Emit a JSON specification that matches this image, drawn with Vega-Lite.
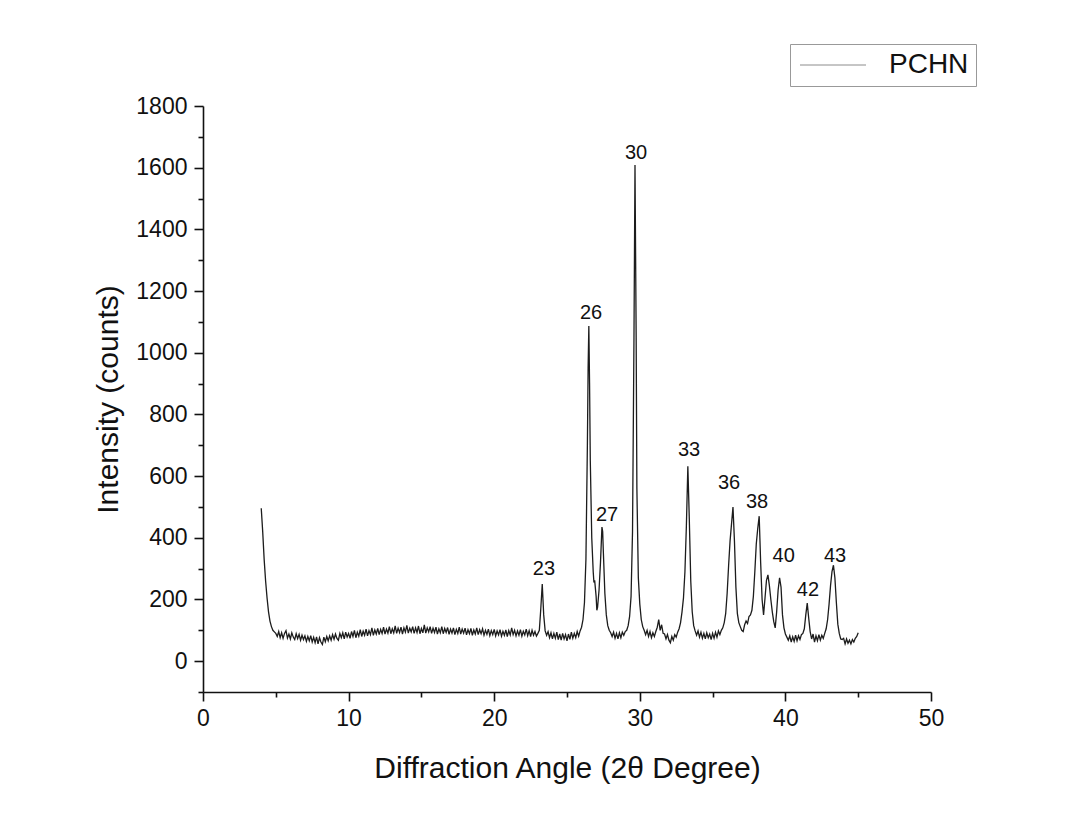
{
  "$schema": "https://vega.github.io/schema/vega-lite/v6.json",
  "width": 728,
  "height": 586,
  "autosize": {"type": "none"},
  "padding": {"left": 203, "top": 106, "right": 139, "bottom": 129},
  "background": "white",
  "config": {
    "view": {"stroke": null},
    "font": "Liberation Sans",
    "axis": {"domainColor": "#111", "domainWidth": 1.6, "tickColor": "#111", "tickWidth": 1.6, "labelColor": "#111", "titleColor": "#111", "grid": false, "labelFont": "Liberation Sans", "titleFont": "Liberation Sans", "titleFontWeight": "normal"}
  },
  "datasets": {
    "xrd": [
      {"angle":4.0,"counts":496},{"angle":4.1,"counts":420},{"angle":4.2,"counts":330},{"angle":4.3,"counts":260},{"angle":4.4,"counts":205},{"angle":4.5,"counts":160},{"angle":4.6,"counts":130},{"angle":4.7,"counts":112},{"angle":4.8,"counts":100},{"angle":4.9,"counts":95},
      {"angle":5.0,"counts":90},{"angle":5.1,"counts":80},{"angle":5.2,"counts":96},{"angle":5.3,"counts":76},{"angle":5.4,"counts":92},{"angle":5.5,"counts":74},{"angle":5.6,"counts":90},{"angle":5.7,"counts":99},{"angle":5.8,"counts":75},{"angle":5.9,"counts":88},
      {"angle":6.0,"counts":72},{"angle":6.1,"counts":92},{"angle":6.2,"counts":78},{"angle":6.3,"counts":70},{"angle":6.4,"counts":89},{"angle":6.5,"counts":73},{"angle":6.6,"counts":87},{"angle":6.7,"counts":68},{"angle":6.8,"counts":84},{"angle":6.9,"counts":70},
      {"angle":7.0,"counts":82},{"angle":7.1,"counts":64},{"angle":7.2,"counts":80},{"angle":7.3,"counts":66},{"angle":7.4,"counts":83},{"angle":7.5,"counts":62},{"angle":7.6,"counts":77},{"angle":7.7,"counts":60},{"angle":7.8,"counts":79},{"angle":7.9,"counts":56},
      {"angle":8.0,"counts":76},{"angle":8.1,"counts":62},{"angle":8.2,"counts":54},{"angle":8.3,"counts":78},{"angle":8.4,"counts":63},{"angle":8.5,"counts":80},{"angle":8.6,"counts":66},{"angle":8.7,"counts":82},{"angle":8.8,"counts":68},{"angle":8.9,"counts":86},
      {"angle":9.0,"counts":71},{"angle":9.1,"counts":88},{"angle":9.2,"counts":74},{"angle":9.3,"counts":68},{"angle":9.4,"counts":90},{"angle":9.5,"counts":76},{"angle":9.6,"counts":92},{"angle":9.7,"counts":72},{"angle":9.8,"counts":94},{"angle":9.9,"counts":78},
      {"angle":10.0,"counts":90},{"angle":10.1,"counts":74},{"angle":10.2,"counts":96},{"angle":10.3,"counts":80},{"angle":10.4,"counts":100},{"angle":10.5,"counts":76},{"angle":10.6,"counts":94},{"angle":10.7,"counts":81},{"angle":10.8,"counts":102},{"angle":10.9,"counts":80},
      {"angle":11.0,"counts":97},{"angle":11.1,"counts":84},{"angle":11.2,"counts":104},{"angle":11.3,"counts":82},{"angle":11.4,"counts":99},{"angle":11.5,"counts":86},{"angle":11.6,"counts":108},{"angle":11.7,"counts":84},{"angle":11.8,"counts":101},{"angle":11.9,"counts":88},
      {"angle":12.0,"counts":106},{"angle":12.1,"counts":86},{"angle":12.2,"counts":103},{"angle":12.3,"counts":90},{"angle":12.4,"counts":110},{"angle":12.5,"counts":88},{"angle":12.6,"counts":104},{"angle":12.7,"counts":91},{"angle":12.8,"counts":112},{"angle":12.9,"counts":89},
      {"angle":13.0,"counts":105},{"angle":13.1,"counts":92},{"angle":13.2,"counts":114},{"angle":13.3,"counts":90},{"angle":13.4,"counts":107},{"angle":13.5,"counts":93},{"angle":13.6,"counts":110},{"angle":13.7,"counts":88},{"angle":13.8,"counts":108},{"angle":13.9,"counts":94},
      {"angle":14.0,"counts":116},{"angle":14.1,"counts":91},{"angle":14.2,"counts":107},{"angle":14.3,"counts":95},{"angle":14.4,"counts":112},{"angle":14.5,"counts":90},{"angle":14.6,"counts":108},{"angle":14.7,"counts":93},{"angle":14.8,"counts":114},{"angle":14.9,"counts":89},
      {"angle":15.0,"counts":106},{"angle":15.1,"counts":92},{"angle":15.2,"counts":118},{"angle":15.3,"counts":91},{"angle":15.4,"counts":108},{"angle":15.5,"counts":95},{"angle":15.6,"counts":112},{"angle":15.7,"counts":90},{"angle":15.8,"counts":107},{"angle":15.9,"counts":93},
      {"angle":16.0,"counts":110},{"angle":16.1,"counts":88},{"angle":16.2,"counts":105},{"angle":16.3,"counts":92},{"angle":16.4,"counts":112},{"angle":16.5,"counts":89},{"angle":16.6,"counts":106},{"angle":16.7,"counts":93},{"angle":16.8,"counts":109},{"angle":16.9,"counts":87},
      {"angle":17.0,"counts":104},{"angle":17.1,"counts":91},{"angle":17.2,"counts":108},{"angle":17.3,"counts":86},{"angle":17.4,"counts":103},{"angle":17.5,"counts":90},{"angle":17.6,"counts":110},{"angle":17.7,"counts":88},{"angle":17.8,"counts":104},{"angle":17.9,"counts":91},
      {"angle":18.0,"counts":107},{"angle":18.1,"counts":85},{"angle":18.2,"counts":102},{"angle":18.3,"counts":89},{"angle":18.4,"counts":106},{"angle":18.5,"counts":84},{"angle":18.6,"counts":101},{"angle":18.7,"counts":88},{"angle":18.8,"counts":108},{"angle":18.9,"counts":86},
      {"angle":19.0,"counts":102},{"angle":19.1,"counts":89},{"angle":19.2,"counts":105},{"angle":19.3,"counts":84},{"angle":19.4,"counts":100},{"angle":19.5,"counts":87},{"angle":19.6,"counts":104},{"angle":19.7,"counts":83},{"angle":19.8,"counts":99},{"angle":19.9,"counts":86},
      {"angle":20.0,"counts":103},{"angle":20.1,"counts":82},{"angle":20.2,"counts":98},{"angle":20.3,"counts":85},{"angle":20.4,"counts":102},{"angle":20.5,"counts":81},{"angle":20.6,"counts":97},{"angle":20.7,"counts":84},{"angle":20.8,"counts":101},{"angle":20.9,"counts":80},
      {"angle":21.0,"counts":99},{"angle":21.1,"counts":85},{"angle":21.2,"counts":108},{"angle":21.3,"counts":86},{"angle":21.4,"counts":100},{"angle":21.5,"counts":82},{"angle":21.6,"counts":98},{"angle":21.7,"counts":84},{"angle":21.8,"counts":102},{"angle":21.9,"counts":81},
      {"angle":22.0,"counts":97},{"angle":22.1,"counts":85},{"angle":22.2,"counts":104},{"angle":22.3,"counts":83},{"angle":22.4,"counts":99},{"angle":22.5,"counts":80},{"angle":22.6,"counts":100},{"angle":22.7,"counts":84},{"angle":22.8,"counts":96},{"angle":22.9,"counts":81},
      {"angle":23.0,"counts":90},{"angle":23.1,"counts":100},{"angle":23.2,"counts":170},{"angle":23.3,"counts":250},{"angle":23.4,"counts":150},{"angle":23.5,"counts":98},{"angle":23.6,"counts":84},{"angle":23.7,"counts":96},{"angle":23.8,"counts":76},{"angle":23.9,"counts":92},
      {"angle":24.0,"counts":72},{"angle":24.1,"counts":90},{"angle":24.2,"counts":74},{"angle":24.3,"counts":94},{"angle":24.4,"counts":70},{"angle":24.5,"counts":88},{"angle":24.6,"counts":68},{"angle":24.7,"counts":90},{"angle":24.8,"counts":72},{"angle":24.9,"counts":86},
      {"angle":25.0,"counts":66},{"angle":25.1,"counts":88},{"angle":25.2,"counts":71},{"angle":25.3,"counts":94},{"angle":25.4,"counts":74},{"angle":25.5,"counts":90},{"angle":25.6,"counts":76},{"angle":25.7,"counts":96},{"angle":25.8,"counts":81},{"angle":25.9,"counts":98},
      {"angle":26.0,"counts":110},{"angle":26.1,"counts":135},{"angle":26.2,"counts":190},{"angle":26.3,"counts":330},{"angle":26.4,"counts":700},{"angle":26.45,"counts":950},{"angle":26.5,"counts":1087},{"angle":26.55,"counts":900},{"angle":26.6,"counts":650},{"angle":26.7,"counts":400},{"angle":26.8,"counts":290},{"angle":26.85,"counts":255},{"angle":26.9,"counts":262},
      {"angle":27.0,"counts":210},{"angle":27.05,"counts":165},{"angle":27.1,"counts":175},{"angle":27.2,"counts":230},{"angle":27.3,"counts":320},{"angle":27.4,"counts":435},{"angle":27.45,"counts":420},{"angle":27.5,"counts":350},{"angle":27.6,"counts":220},{"angle":27.7,"counts":150},{"angle":27.8,"counts":115},{"angle":27.9,"counts":100},
      {"angle":28.0,"counts":92},{"angle":28.1,"counts":80},{"angle":28.2,"counts":94},{"angle":28.3,"counts":74},{"angle":28.4,"counts":90},{"angle":28.5,"counts":72},{"angle":28.6,"counts":92},{"angle":28.7,"counts":76},{"angle":28.8,"counts":94},{"angle":28.9,"counts":84},
      {"angle":29.0,"counts":96},{"angle":29.1,"counts":100},{"angle":29.2,"counts":115},{"angle":29.3,"counts":145},{"angle":29.4,"counts":210},{"angle":29.5,"counts":420},{"angle":29.6,"counts":1050},{"angle":29.67,"counts":1609},{"angle":29.75,"counts":1050},{"angle":29.8,"counts":560},{"angle":29.9,"counts":270},
      {"angle":30.0,"counts":185},{"angle":30.1,"counts":135},{"angle":30.2,"counts":112},{"angle":30.3,"counts":100},{"angle":30.4,"counts":86},{"angle":30.5,"counts":100},{"angle":30.6,"counts":80},{"angle":30.7,"counts":96},{"angle":30.8,"counts":76},{"angle":30.9,"counts":92},
      {"angle":31.0,"counts":80},{"angle":31.1,"counts":96},{"angle":31.2,"counts":110},{"angle":31.3,"counts":135},{"angle":31.4,"counts":100},{"angle":31.5,"counts":118},{"angle":31.6,"counts":90},{"angle":31.7,"counts":88},{"angle":31.8,"counts":72},{"angle":31.9,"counts":86},
      {"angle":32.0,"counts":68},{"angle":32.1,"counts":60},{"angle":32.2,"counts":80},{"angle":32.3,"counts":68},{"angle":32.4,"counts":86},{"angle":32.5,"counts":78},{"angle":32.6,"counts":94},{"angle":32.7,"counts":105},{"angle":32.8,"counts":125},{"angle":32.9,"counts":160},
      {"angle":33.0,"counts":205},{"angle":33.1,"counts":290},{"angle":33.2,"counts":440},{"angle":33.3,"counts":632},{"angle":33.4,"counts":460},{"angle":33.5,"counts":260},{"angle":33.6,"counts":160},{"angle":33.7,"counts":115},{"angle":33.8,"counts":98},{"angle":33.9,"counts":84},
      {"angle":34.0,"counts":98},{"angle":34.1,"counts":78},{"angle":34.2,"counts":94},{"angle":34.3,"counts":74},{"angle":34.4,"counts":90},{"angle":34.5,"counts":72},{"angle":34.6,"counts":92},{"angle":34.7,"counts":76},{"angle":34.8,"counts":88},{"angle":34.9,"counts":70},
      {"angle":35.0,"counts":90},{"angle":35.1,"counts":74},{"angle":35.2,"counts":94},{"angle":35.3,"counts":78},{"angle":35.4,"counts":98},{"angle":35.5,"counts":86},{"angle":35.6,"counts":100},{"angle":35.7,"counts":108},{"angle":35.8,"counts":125},{"angle":35.9,"counts":155},
      {"angle":36.0,"counts":220},{"angle":36.1,"counts":310},{"angle":36.2,"counts":390},{"angle":36.3,"counts":445},{"angle":36.4,"counts":500},{"angle":36.5,"counts":390},{"angle":36.6,"counts":240},{"angle":36.7,"counts":155},{"angle":36.8,"counts":125},{"angle":36.9,"counts":112},
      {"angle":37.0,"counts":100},{"angle":37.1,"counts":96},{"angle":37.2,"counts":118},{"angle":37.3,"counts":130},{"angle":37.4,"counts":122},{"angle":37.5,"counts":145},{"angle":37.6,"counts":150},{"angle":37.7,"counts":165},{"angle":37.8,"counts":210},{"angle":37.9,"counts":290},
      {"angle":38.0,"counts":380},{"angle":38.1,"counts":430},{"angle":38.2,"counts":470},{"angle":38.3,"counts":320},{"angle":38.4,"counts":200},{"angle":38.5,"counts":150},{"angle":38.6,"counts":205},{"angle":38.7,"counts":262},{"angle":38.8,"counts":280},{"angle":38.9,"counts":245},
      {"angle":39.0,"counts":200},{"angle":39.1,"counts":160},{"angle":39.2,"counts":128},{"angle":39.3,"counts":108},{"angle":39.4,"counts":160},{"angle":39.5,"counts":230},{"angle":39.6,"counts":270},{"angle":39.7,"counts":240},{"angle":39.8,"counts":150},{"angle":39.9,"counts":108},
      {"angle":40.0,"counts":88},{"angle":40.1,"counts":78},{"angle":40.2,"counts":68},{"angle":40.3,"counts":82},{"angle":40.4,"counts":62},{"angle":40.5,"counts":79},{"angle":40.6,"counts":64},{"angle":40.7,"counts":84},{"angle":40.8,"counts":66},{"angle":40.9,"counts":82},
      {"angle":41.0,"counts":70},{"angle":41.1,"counts":86},{"angle":41.2,"counts":90},{"angle":41.3,"counts":105},{"angle":41.4,"counts":150},{"angle":41.5,"counts":188},{"angle":41.6,"counts":140},{"angle":41.7,"counts":96},{"angle":41.8,"counts":72},{"angle":41.9,"counts":88},
      {"angle":42.0,"counts":62},{"angle":42.1,"counts":82},{"angle":42.2,"counts":66},{"angle":42.3,"counts":86},{"angle":42.4,"counts":68},{"angle":42.5,"counts":84},{"angle":42.6,"counts":74},{"angle":42.7,"counts":90},{"angle":42.8,"counts":105},{"angle":42.9,"counts":135},
      {"angle":43.0,"counts":185},{"angle":43.1,"counts":245},{"angle":43.2,"counts":290},{"angle":43.3,"counts":311},{"angle":43.4,"counts":270},{"angle":43.5,"counts":190},{"angle":43.6,"counts":120},{"angle":43.7,"counts":90},{"angle":43.8,"counts":72},{"angle":43.9,"counts":70},
      {"angle":44.0,"counts":74},{"angle":44.1,"counts":56},{"angle":44.2,"counts":72},{"angle":44.3,"counts":58},{"angle":44.4,"counts":68},{"angle":44.5,"counts":56},{"angle":44.6,"counts":70},{"angle":44.7,"counts":62},{"angle":44.8,"counts":74},{"angle":44.9,"counts":80},
      {"angle":45.0,"counts":92}
    ],
    "peaks": [
      {"angle":23.42,"counts":298,"label":"23"},
      {"angle":26.65,"counts":1129,"label":"26"},
      {"angle":27.75,"counts":474,"label":"27"},
      {"angle":29.74,"counts":1648,"label":"30"},
      {"angle":33.38,"counts":684,"label":"33"},
      {"angle":36.13,"counts":577,"label":"36"},
      {"angle":38.05,"counts":516,"label":"38"},
      {"angle":39.88,"counts":341,"label":"40"},
      {"angle":41.55,"counts":230,"label":"42"},
      {"angle":43.41,"counts":341,"label":"43"}
    ]
  },
  "encoding": {
    "x": {
      "field": "angle", "type": "quantitative",
      "scale": {"domain": [0, 50], "nice": false, "zero": false},
      "axis": {
        "title": "Diffraction Angle (2θ Degree)",
        "values": [0,5,10,15,20,25,30,35,40,45,50],
        "labelExpr": "datum.value % 10 === 0 ? datum.label : ''",
        "tickSize": {"condition": {"test": "datum.value % 10 === 0", "value": 9}, "value": 5},
        "labelFontSize": 23, "labelPadding": 6, "labelOverlap": false,
        "titleFontSize": 30, "titlePadding": 23, "labelFlush": false
      }
    },
    "y": {
      "field": "counts", "type": "quantitative",
      "scale": {"domain": [-100, 1800], "nice": false, "zero": false},
      "axis": {
        "title": "Intensity (counts)",
        "values": [-100,0,100,200,300,400,500,600,700,800,900,1000,1100,1200,1300,1400,1500,1600,1700,1800],
        "labelExpr": "(datum.value + 1000) % 200 === 0 ? ('' + datum.value) : ''",
        "tickSize": {"condition": {"test": "(datum.value + 1000) % 200 === 0", "value": 9}, "value": 5},
        "labelFontSize": 23, "labelPadding": 7, "labelOverlap": false,
        "titleFontSize": 30, "titlePadding": 12, "labelFlush": false
      }
    }
  },
  "layer": [
    {
      "data": {"name": "xrd"},
      "mark": {"type": "line", "strokeWidth": 1.3, "interpolate": "linear"},
      "encoding": {
        "color": {
          "datum": "PCHN",
          "scale": {"range": ["#1c1c1c"]},
          "legend": {
            "title": null, "orient": "none", "legendX": 587, "legendY": -62,
            "symbolType": "M-1,0H5", "symbolSize": 484, "symbolStrokeWidth": 1, "symbolOpacity": 0.5,
            "labelFontSize": 28, "labelFont": "Liberation Sans", "labelColor": "#111", "labelOffset": 64,
            "strokeColor": "#999999", "padding": 7
          }
        }
      }
    },
    {
      "data": {"name": "peaks"},
      "mark": {"type": "text", "fontSize": 20, "font": "Liberation Sans", "color": "#111", "baseline": "middle", "align": "center"},
      "encoding": {
        "text": {"field": "label"}
      }
    }
  ]
}
